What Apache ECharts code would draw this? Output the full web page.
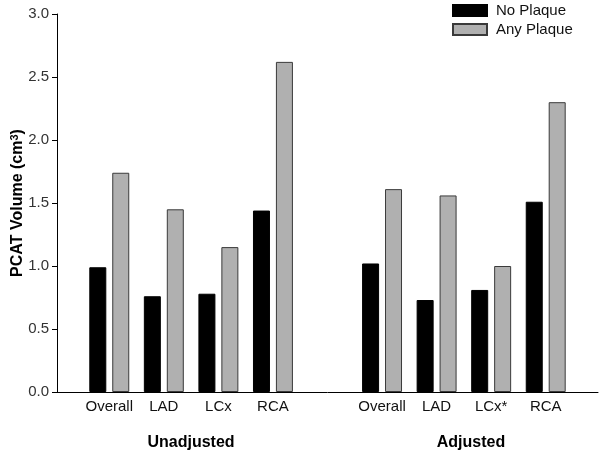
<!DOCTYPE html>
<html>
<head>
<meta charset="utf-8">
<script src="https://cdn.jsdelivr.net/npm/echarts@6/dist/echarts.min.js"></script>
<style>html,body{margin:0;padding:0;background:#fff;}#c{width:604px;height:461px;}</style>
</head>
<body>
<div id="c"></div>
<script>
var categories = ['Overall', 'LAD', 'LCx', 'RCA', '', 'Overall', 'LAD', 'LCx*', 'RCA'];
var noPlaque = [0.99, 0.76, 0.78, 1.44, null, 1.02, 0.73, 0.81, 1.51];
var anyPlaque = [1.74, 1.45, 1.15, 2.62, null, 1.61, 1.56, 1.00, 2.30];
var yTicks = { min: 0, max: 3, interval: 0.5 };
var groupLabels = ['Unadjusted', 'Adjusted'];
var seriesNames = ['No Plaque', 'Any Plaque'];

var FONT = '"Liberation Sans", Arial, sans-serif';
var chart = echarts.init(document.getElementById('c'), null, { renderer: 'canvas' });
chart.setOption({
  animation: false,
  backgroundColor: '#ffffff',
  textStyle: { fontFamily: FONT },
  legend: {
    data: seriesNames,
    orient: 'vertical',
    left: 452, top: 3, padding: 0,
    itemWidth: 34, itemHeight: 11, itemGap: 4,
    icon: 'rect',
    textStyle: { fontSize: 15, color: '#111', fontFamily: FONT, padding: [0, 0, 0, 4] }
  },
  grid: [
    { left: 57, right: 6, top: 14, bottom: 69, outerBoundsMode: 'none', containLabel: false },
    { left: 82, width: 491, top: 14, bottom: 69, outerBoundsMode: 'none', containLabel: false }
  ],
  xAxis: [
    { gridIndex: 0, type: 'value', min: 0, max: 1,
      axisLine: { show: true, onZero: false, lineStyle: { color: '#000', width: 1 } },
      axisTick: { show: false }, axisLabel: { show: false }, splitLine: { show: false } },
    { gridIndex: 1, type: 'category', data: categories,
      axisLine: { show: false }, axisTick: { show: false },
      axisLabel: { interval: 0, margin: 7, fontSize: 15, color: '#111', fontFamily: FONT } }
  ],
  yAxis: [
    { gridIndex: 0, type: 'value', min: yTicks.min, max: yTicks.max, interval: yTicks.interval,
      name: 'PCAT Volume (cm{sup|3})', nameLocation: 'middle', nameGap: 30, nameMoveOverlap: false,
      nameTextStyle: { fontSize: 16, fontWeight: 'bold', color: '#000', fontFamily: FONT,
        rich: { sup: { fontSize: 11, fontWeight: 'bold', verticalAlign: 'top', padding: [0, 0, 7, 0] } } },
      axisLine: { show: true, lineStyle: { color: '#000', width: 1 } },
      axisTick: { show: true, inside: false, length: 5, lineStyle: { color: '#000' } },
      axisLabel: { margin: 8, fontSize: 15, color: '#333', fontFamily: FONT,
        formatter: function (v) { return v.toFixed(1); } },
      splitLine: { show: false } },
    { gridIndex: 1, type: 'value', min: yTicks.min, max: yTicks.max, interval: yTicks.interval, show: false,
      splitLine: { show: false } }
  ],
  series: [
    { name: seriesNames[0], type: 'bar', xAxisIndex: 1, yAxisIndex: 1, data: noPlaque,
      barWidth: 17, barGap: '35%',
      itemStyle: { color: '#000000', borderColor: '#000000', borderWidth: 1 } },
    { name: seriesNames[1], type: 'bar', xAxisIndex: 1, yAxisIndex: 1, data: anyPlaque,
      barWidth: 17, barGap: '35%',
      itemStyle: { color: '#b0b0b0', borderColor: '#3a3a3a', borderWidth: 1 } }
  ],
  graphic: [
    { type: 'text', x: 191, y: 443, style: { text: groupLabels[0], align: 'center', verticalAlign: 'middle',
      font: 'bold 16px ' + FONT, fill: '#000' } },
    { type: 'text', x: 471, y: 443, style: { text: groupLabels[1], align: 'center', verticalAlign: 'middle',
      font: 'bold 16px ' + FONT, fill: '#000' } }
  ]
});
</script>
</body>
</html>
